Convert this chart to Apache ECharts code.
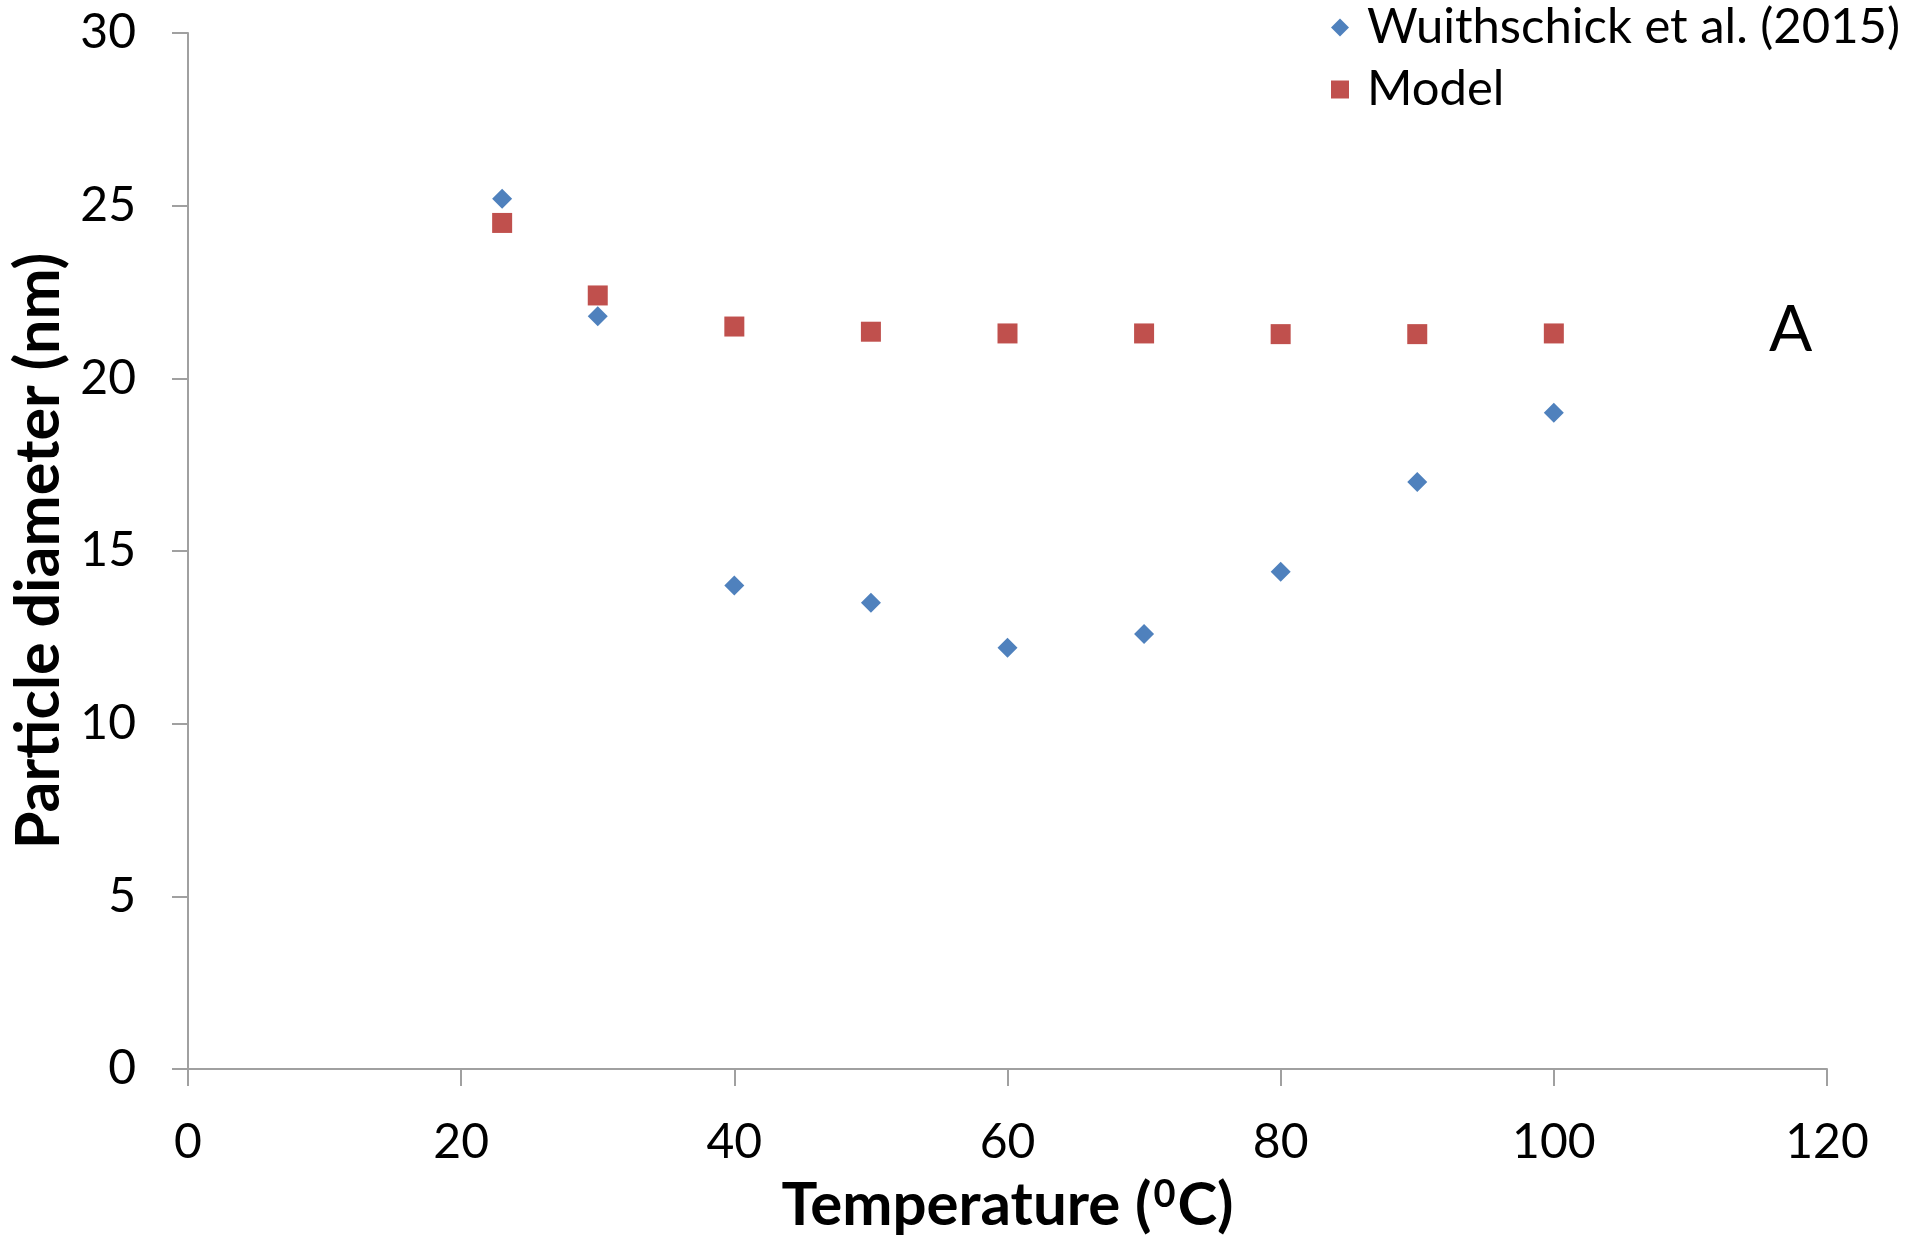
<!DOCTYPE html>
<html>
<head>
<meta charset="utf-8">
<title>Particle diameter vs temperature</title>
<script src="https://cdn.jsdelivr.net/npm/echarts@6/dist/echarts.min.js"></script>
<style>
  html, body { margin: 0; padding: 0; background: #fff; }
  #chart { width: 1925px; height: 1237px; }
</style>
</head>
<body>
<div id="chart"></div>
<script>
// data
var temps = [23, 30, 40, 50, 60, 70, 80, 90, 100];
var measured = [25.2, 21.8, 14.0, 13.5, 12.2, 12.6, 14.4, 17.0, 19.0];
var model = [24.5, 22.4, 21.5, 21.35, 21.3, 21.3, 21.28, 21.28, 21.3];
var xTicks = [0, 20, 40, 60, 80, 100, 120];
var yTicks = [0, 5, 10, 15, 20, 25, 30];

var font = 'Lato, "Open Sans", sans-serif';
var axisColor = '#a0a0a0';

function pairs(xs, ys) {
  return xs.map(function (x, i) { return [x, ys[i]]; });
}

var myChart = echarts.init(document.getElementById('chart'));

myChart.setOption({
  animation: false,
  grid: { left: 188, right: 98, top: 33, bottom: 168, outerBoundsMode: 'none', containLabel: false },
  legend: {
    orient: 'vertical',
    left: 1326,
    top: -2,
    itemWidth: 18,
    itemHeight: 18,
    itemGap: 13,
    textStyle: { fontFamily: font, fontSize: 49, color: '#000', padding: [0, 0, 0, 13] },
    data: [
      { name: 'Wuithschick et al. (2015)', icon: 'diamond' },
      { name: 'Model', icon: 'rect' }
    ]
  },
  xAxis: {
    type: 'value',
    min: xTicks[0],
    max: xTicks[xTicks.length - 1],
    interval: 20,
    name: '{a|Temperature (}{s|0}{a|C)}',
    nameLocation: 'middle',
    nameGap: 107,
    nameTextStyle: {
      rich: {
        a: { fontFamily: font, fontSize: 60, fontWeight: 'bold', color: '#000' },
        s: { fontFamily: font, fontSize: 38, fontWeight: 'bold', color: '#000', verticalAlign: 'top', padding: [0, 2, 22, 2] }
      }
    },
    axisLine: { lineStyle: { color: axisColor, width: 2 } },
    axisTick: { length: 17, lineStyle: { color: axisColor, width: 2 } },
    axisLabel: { fontFamily: font, fontSize: 48, color: '#000', margin: 50 },
    splitLine: { show: false }
  },
  yAxis: {
    type: 'value',
    min: yTicks[0],
    max: yTicks[yTicks.length - 1],
    interval: 5,
    name: 'Particle diameter (nm)',
    nameLocation: 'middle',
    nameGap: 116,
    nameTextStyle: { fontFamily: font, fontSize: 61, fontWeight: 'bold', color: '#000' },
    axisLine: { show: true, lineStyle: { color: axisColor, width: 2 } },
    axisTick: { show: true, length: 16, lineStyle: { color: axisColor, width: 2 } },
    axisLabel: { fontFamily: font, fontSize: 48, color: '#000', margin: 52 },
    splitLine: { show: false }
  },
  series: [
    {
      name: 'Wuithschick et al. (2015)',
      type: 'scatter',
      symbol: 'diamond',
      symbolSize: 20,
      itemStyle: { color: '#4f81bd', opacity: 1 },
      data: pairs(temps, measured)
    },
    {
      name: 'Model',
      type: 'scatter',
      symbol: 'rect',
      symbolSize: 20,
      itemStyle: { color: '#c0504d', opacity: 1 },
      data: pairs(temps, model)
    }
  ],
  graphic: [{
    type: 'text',
    left: 1769,
    top: 298,
    style: { text: 'A', fontFamily: font, fontSize: 64, fill: '#000' }
  }]
});

window.addEventListener('resize', function () {
  myChart.resize();
});
</script>
</body>
</html>
